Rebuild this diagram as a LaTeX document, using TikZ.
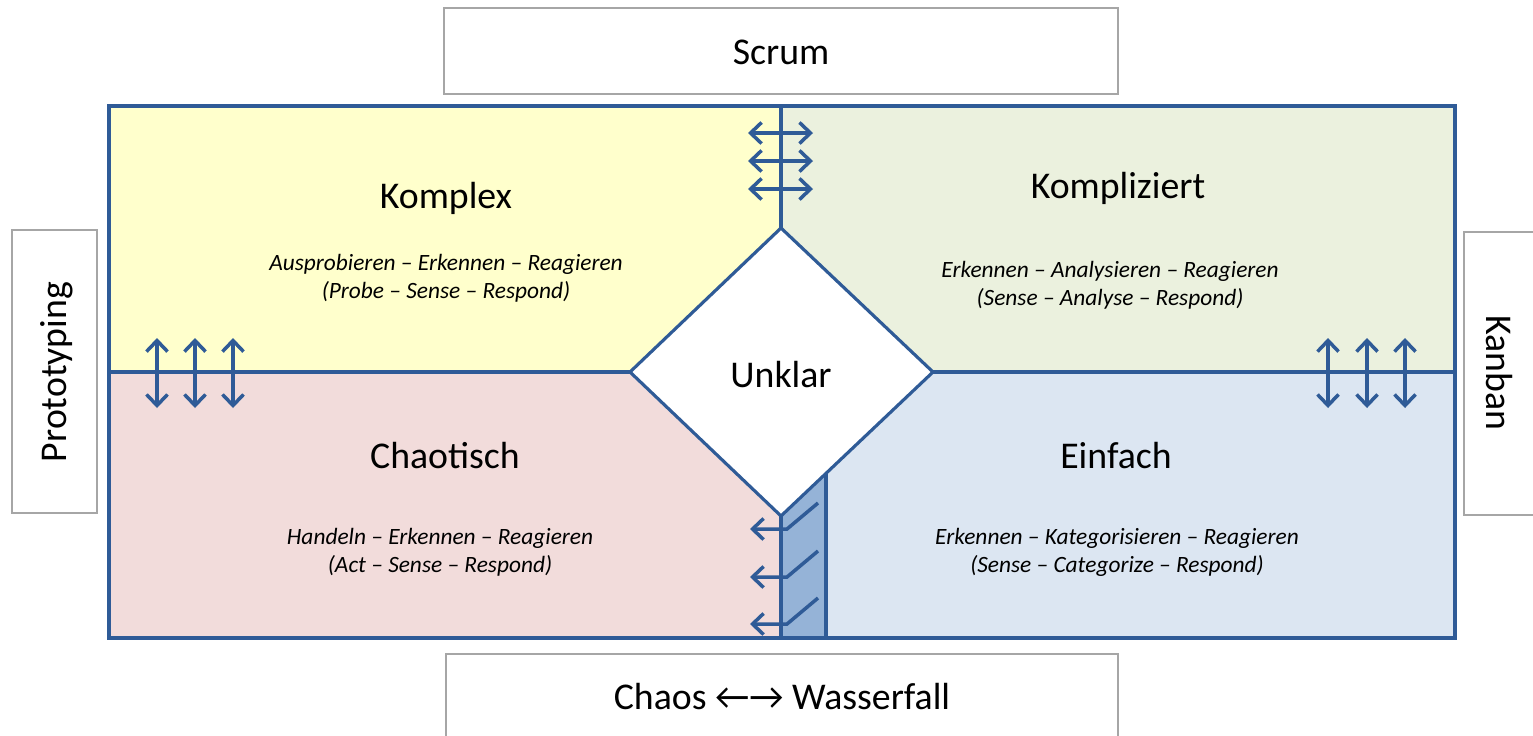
\documentclass[tikz,border=0pt]{standalone}
\usepackage{fontspec}
\setmainfont{Carlito}
\usetikzlibrary{arrows.meta}

\definecolor{rand}{HTML}{2F5B97}
\definecolor{komplexgelb}{HTML}{FFFFCC}
\definecolor{kompliziertgruen}{HTML}{EBF1DE}
\definecolor{chaosrot}{HTML}{F2DCDB}
\definecolor{einfachblau}{HTML}{DCE6F2}
\definecolor{streifen}{HTML}{95B3D7}
\definecolor{kastengrau}{HTML}{A6A6A6}

\begin{document}
\begin{tikzpicture}[x=0.02cm,y=-0.02cm,
    titel/.style={font=\fontsize{21.5}{26}\selectfont},
    motto/.style={align=center,font=\fontsize{13.3}{15.9}\selectfont\itshape},
    kasten/.style={draw=kastengrau,line width=1.2pt,fill=white},
    pfeil/.style={rand,line width=2pt,{Straight Barb[length=2.2mm,width=4.2mm]}-{Straight Barb[length=2.2mm,width=4.2mm]}}]
  \useasboundingbox (0,0) rectangle (1533,735);
  \clip (0,0) rectangle (1533,735);

  % die vier Felder
  \fill[komplexgelb] (109,106) rectangle (781,372);
  \fill[kompliziertgruen] (781,106) rectangle (1455,372);
  \fill[chaosrot] (109,372) rectangle (781,638);
  \fill[einfachblau] (781,372) rectangle (1455,638);
  \fill[streifen] (781,516) -- (826,473.4) -- (826,638) -- (781,638) -- cycle;

  % Rahmen und Trennlinien
  \draw[rand,line width=1.8pt] (109,106) rectangle (1455,638);
  \draw[rand,line width=1.8pt] (781,106) -- (781,228);
  \draw[rand,line width=1.8pt] (109,372) -- (630,372);
  \draw[rand,line width=1.8pt] (933,372) -- (1455,372);
  \draw[rand,line width=1.8pt] (781,516) -- (781,638);
  \draw[rand,line width=1.8pt] (826,473.4) -- (826,638);
  \draw[rand,line width=1.8pt,fill=white] (781,228) -- (933,372) -- (781,516) -- (630,372) -- cycle;
  \node[titel] (unklar) at (781,375) {Unklar};

  % Pfeile an den Grenzen
  \foreach \y in {133,161,189}
    \draw[pfeil] (748,\y) -- (813,\y);
  \foreach \x in {157,195,233,1328,1367,1405}
    \draw[pfeil] (\x,338) -- (\x,408);
  \foreach \y in {529,577,624}
    \draw[rand,line width=2pt,-{Straight Barb[length=2.2mm,width=4.2mm]}]
      (818,\y-26) -- (787,\y) -- (750,\y);

  % Beschriftung der Felder
  \node[titel] (komplex) at (446,198) {Komplex};
  \node[motto] (komplexmotto) at (446,278) {Ausprobieren -- Erkennen -- Reagieren\\(Probe -- Sense -- Respond)};
  \node[titel] (kompliziert) at (1118,188) {Kompliziert};
  \node[motto] (kompliziertmotto) at (1110,285) {Erkennen -- Analysieren -- Reagieren\\(Sense -- Analyse -- Respond)};
  \node[titel] (chaotisch) at (445,456) {Chaotisch};
  \node[motto] (chaotischmotto) at (440,552) {Handeln -- Erkennen -- Reagieren\\(Act -- Sense -- Respond)};
  \node[titel] (einfach) at (1116,456) {Einfach};
  \node[motto] (einfachmotto) at (1117,552) {Erkennen -- Kategorisieren -- Reagieren\\(Sense -- Categorize -- Respond)};

  % Methoden rundherum
  \draw[kasten] (444,8) rectangle (1118,94);
  \node[titel] (scrum) at (781,52) {Scrum};
  \draw[kasten] (446,654) rectangle (1118,760);
  \node[titel] (wasserfall) at (782,697) {Chaos ←→ Wasserfall};
  \draw[kasten] (12,230) rectangle (97,513);
  \node[titel,rotate=90] (prototyping) at (57,372) {Prototyping};
  \draw[kasten] (1464,232) rectangle (1560,515);
  \node[titel,rotate=-90] (kanban) at (1499,373) {Kanban};
\end{tikzpicture}
\end{document}
